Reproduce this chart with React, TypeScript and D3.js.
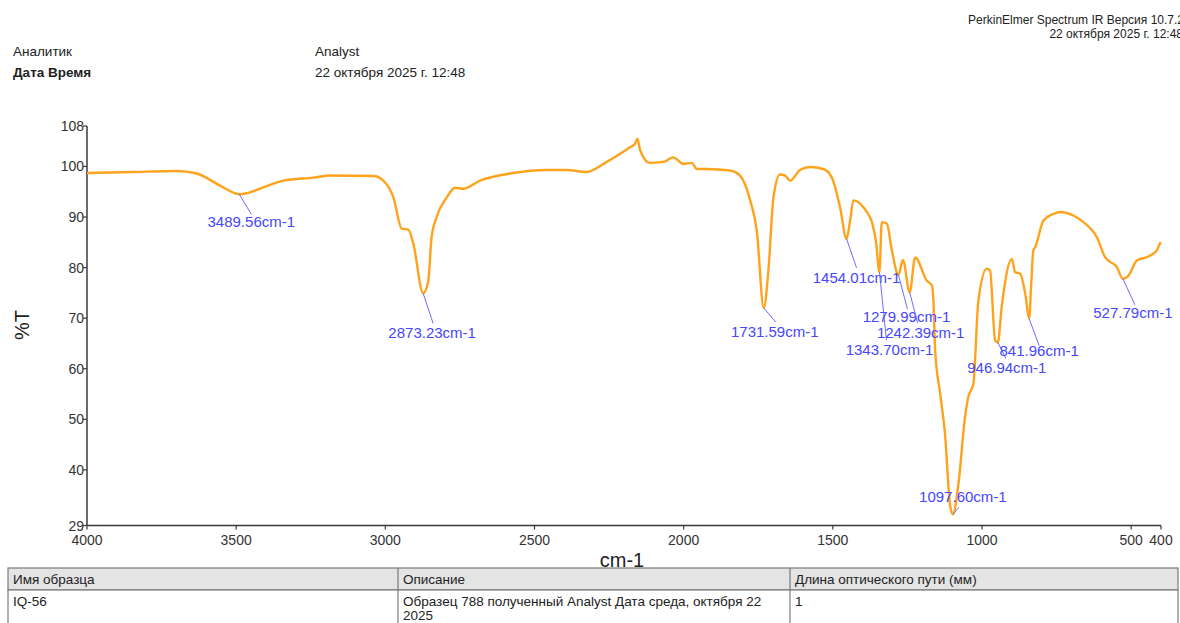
import React from "react";
import * as d3 from "d3";

// IR spectrum: wavenumber (cm-1) and transmittance (%T)
const spectrumWavenumber = [
  4000, 3850, 3700, 3632, 3554, 3498, 3465, 3420, 3342, 3241, 3185, 3040, 3007, 2973, 2945,
  2923, 2906, 2856, 2845, 2828, 2794, 2766, 2738, 2683, 2571, 2459, 2392, 2325, 2258, 2180,
  2163, 2155, 2146, 2113, 2068, 2035, 2001, 1973, 1956, 1923, 1845, 1811, 1777, 1755, 1716,
  1699, 1677, 1660, 1643, 1610, 1576, 1532, 1504, 1476, 1442, 1431, 1398, 1386, 1369, 1355,
  1336, 1319, 1302, 1265, 1224, 1185, 1168, 1163, 1157, 1140, 1124, 1107, 1079, 1057, 1046,
  1029, 1012, 984, 973, 956, 934, 900, 889, 872, 855, 835, 828, 822, 794, 761, 738, 694, 660,
  615, 587, 548, 509, 481, 442, 414, 403, 400,
];
const spectrumTransmittance = [
  98.7, 98.9, 99.1, 98.6, 96.2, 94.6, 94.7, 95.6, 97.2, 97.8, 98.2, 98.1, 97.2, 93.9, 87.7,
  87.5, 84.7, 77.4, 86.0, 90.0, 93.9, 95.8, 95.6, 97.2, 98.7, 99.3, 99.3, 98.9, 100.9, 103.8,
  104.5, 105.5, 103.2, 100.7, 100.9, 101.8, 100.5, 100.7, 99.5, 99.5, 99.2, 98.2, 93.3, 87.3, 79.4,
  93.9, 98.4, 98.2, 97.2, 99.3, 99.9, 99.5, 97.9, 92.0, 89.3, 93.3, 92.0, 91.0, 89.0, 85.0,
  89.0, 88.7, 83.4, 81.5, 82.0, 77.4, 76.5, 73.5, 63.6, 55.0, 47.1, 33.0, 37.2, 50.4, 54.4,
  57.0, 73.5, 79.8, 79.4, 65.6, 72.2, 81.7, 79.1, 78.8, 74.8, 76.8, 83.4, 84.0, 89.3, 90.6, 91.0, 90.3, 89.0,
  86.0, 82.0, 80.1, 78.4, 81.4, 82.2, 83.4, 84.8, 85.0,
];

// Labelled peaks
const peakWavenumber = [3489.56, 2873.23, 1731.59, 1454.01, 1343.7, 1279.99, 1242.39, 1097.6, 946.94, 841.96, 527.79];
const peakTransmittance = [94.5, 74.9, 72.0, 85.7, 79.1, 78.5, 75.1, 31.2, 65.2, 69.9, 77.8];
// Label placement relative to the peak point (px): leader end and text centre
const peakLabelDx = [12, 10, 12, 10, 7, 9, 8, 6, 8, 10, 12];
const peakLabelDy = [20, 30, 14, 29, 68, 34, 31, -7, 16, 27, 26];
const peakTextDx = [0, -1, -1, 0, 3, -1, 3, 4, 1, 0, -2];
const peakTextDy = [13, 15, 15, 15, 15, 13, 15, -5, 15, 10, 13];

const xTicks = [4000, 3500, 3000, 2500, 2000, 1500, 1000, 500, 400];
const yTicks = [29, 40, 50, 60, 70, 80, 90, 100, 108];

const headerLeft = ["Аналитик", "Дата Время"];
const headerValues = ["Analyst", "22 октября 2025 г. 12:48"];
const softwareInfo = ["PerkinElmer Spectrum IR Версия 10.7.2", "22 октября 2025 г. 12:48"];
const tableHeader = ["Имя образца", "Описание", "Длина оптического пути (мм)"];
const tableRow = ["IQ-56", "Образец 788 полученный Analyst Дата среда, октября 22|2025", "1"];

const W = 1180;
const H = 623;
const FONT = "'Liberation Sans', Arial, sans-serif";
const LINE = "#ffa21c";
const BLUE = "#4646ff";
const AXIS = "#3a3a3a";

export default function App() {
  const x = d3.scaleLinear().domain([4000, 400]).range([87, 1161]);
  const y = d3.scaleLinear().domain([29, 108]).range([525.5, 126]);

  const points: [number, number][] = spectrumWavenumber.map((w, i) => [w, spectrumTransmittance[i]]);
  peakWavenumber.forEach((w, i) => points.push([w, peakTransmittance[i]]));
  points.sort((a, b) => b[0] - a[0]);

  const line = d3
    .line<[number, number]>()
    .x((d) => x(d[0]))
    .y((d) => y(d[1]))
    .curve(d3.curveMonotoneX);

  const colX = [8, 398, 790, 1178];

  return (
    <svg
      width={W}
      height={H}
      style={{ position: "absolute", left: 0, top: 0, background: "#fff" }}
      fontFamily={FONT}
    >
      {/* header */}
      <g fontSize={13.5} fill="#222">
        <text x={13} y={56}>{headerLeft[0]}</text>
        <text x={13} y={77} fontWeight="bold">{headerLeft[1]}</text>
        <text x={315} y={56}>{headerValues[0]}</text>
        <text x={315} y={77}>{headerValues[1]}</text>
      </g>
      <g fontSize={12} fill="#222" textAnchor="end">
        <text x={1184} y={24}>{softwareInfo[0]}</text>
        <text x={1183} y={38}>{softwareInfo[1]}</text>
      </g>

      {/* axes */}
      <g stroke={AXIS} strokeWidth={1.5} fill="none">
        <line x1={x(4000)} x2={x(4000)} y1={y(108)} y2={y(29)} />
        <line x1={x(4000)} x2={x(400)} y1={y(29)} y2={y(29)} />
      </g>
      <g fontSize={14} fill="#333">
        {yTicks.map((t) => (
          <g key={t}>
            <line x1={x(4000) - 4} x2={x(4000)} y1={y(t)} y2={y(t)} stroke={AXIS} strokeWidth={1.2} />
            <text x={x(4000) - 3} y={y(t) + 5} textAnchor="end">{t}</text>
          </g>
        ))}
        {xTicks.map((t) => (
          <g key={t}>
            <line x1={x(t)} x2={x(t)} y1={y(29)} y2={y(29) + 4} stroke={AXIS} strokeWidth={1.2} />
            <text x={x(t)} y={y(29) + 19} textAnchor="middle">{t}</text>
          </g>
        ))}
      </g>
      <text x={622} y={567} fontSize={20} textAnchor="middle" fill="#222">cm-1</text>
      <text transform="translate(29,325) rotate(-90)" fontSize={20} textAnchor="middle" fill="#222">%T</text>

      {/* spectrum */}
      <path d={line(points) ?? ""} fill="none" stroke={LINE} strokeWidth={2.4} strokeLinejoin="round" />

      {/* peak labels */}
      <g>
        {peakWavenumber.map((w, i) => {
          const px = x(w);
          const py = y(peakTransmittance[i]);
          const ex = px + peakLabelDx[i];
          const ey = py + peakLabelDy[i];
          return (
            <g key={w}>
              <line x1={px} y1={py} x2={ex} y2={ey} stroke="#6c6cff" strokeWidth={1} />
              <text
                x={ex + peakTextDx[i]}
                y={ey + peakTextDy[i]}
                textAnchor="middle"
                fontSize={15}
                fill={BLUE}
              >
                {`${w.toFixed(2)}cm-1`}
              </text>
            </g>
          );
        })}
      </g>

      {/* sample table */}
      <g fontSize={13.5} fill="#222">
        <rect x={colX[0]} y={568} width={colX[3] - colX[0]} height={22} fill="#e4e4e4" stroke="#7a7a7a" strokeWidth={1.2} />
        <rect x={colX[0]} y={590} width={colX[3] - colX[0]} height={40} fill="#fff" stroke="#7a7a7a" strokeWidth={1.2} />
        {[colX[1], colX[2]].map((cx) => (
          <line key={cx} x1={cx} x2={cx} y1={568} y2={630} stroke="#7a7a7a" strokeWidth={1.2} />
        ))}
        {tableHeader.map((h, i) => (
          <text key={h} x={colX[i] + 5} y={584}>{h}</text>
        ))}
        {tableRow.map((v, i) =>
          v.split("|").map((part, j) => (
            <text key={`${i}-${j}`} x={colX[i] + 5} y={606 + j * 14}>{part}</text>
          ))
        )}
      </g>
    </svg>
  );
}
